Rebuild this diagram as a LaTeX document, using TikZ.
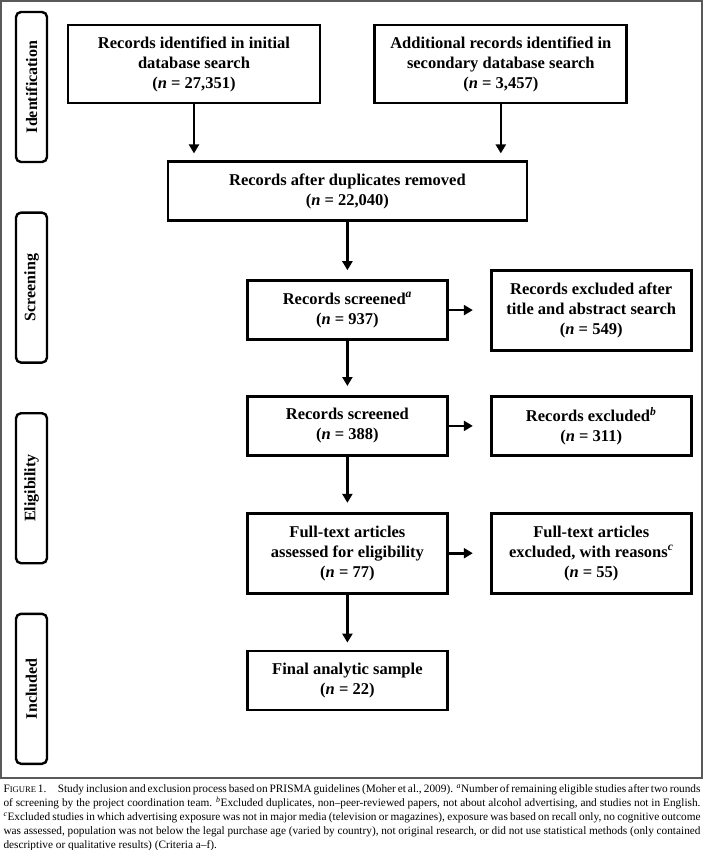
\documentclass[tikz,border=0pt]{standalone}
\usepackage{fontspec}
\setmainfont{Liberation Serif}
\usetikzlibrary{arrows.meta,positioning,calc}

\begin{document}
\begin{tikzpicture}[
  x=1pt,y=1pt,
  box/.style={draw,line width=2.8pt,align=center,inner sep=2pt,font=\fontsize{16.5}{20}\selectfont\bfseries},
  widebox/.style={box,minimum width=252pt,minimum height=78pt},
  midbox/.style={box,minimum width=200pt,minimum height=59pt},
  tallbox/.style={box,minimum width=200pt,minimum height=80pt},
  phase/.style={draw,line width=2.4pt,rounded corners=5pt,rotate=90,minimum width=150pt,minimum height=31pt,inner sep=0pt,font=\fontsize{16}{19}\selectfont\bfseries},
  arrow/.style={-{Triangle[length=9pt,width=10pt]},line width=2.6pt}
]
\useasboundingbox (0,0) rectangle (704,-850);
\draw[gray!70!black,line width=1.2pt] (1,-1) rectangle (702,-778);

% phase labels on the left
\foreach \phasename [count=\i from 0] in {Identification,Screening,Eligibility,Included}
  \node[phase] (phase\i) at (31.5,{-87-200.6*\i}) {\phasename};

% flow boxes
\node[widebox] (initial) at (194,-64) {Records identified in initial\\database search\\(\textit{n} = 27,351)};
\node[widebox,right=52pt of initial] (secondary) {Additional records identified in\\secondary database search\\(\textit{n} = 3,457)};
\node[box,minimum width=359pt,minimum height=59pt,below=56pt of {$(initial.south)!0.5!(secondary.south)$}] (dedup) {Records after duplicates removed\\(\textit{n} = 22,040)};
\node[midbox,below=57pt of dedup] (screened) {Records screened\textsuperscript{\textit{a}}\\(\textit{n} = 937)};
\node[tallbox,right=41pt of screened] (abstract) {Records excluded after\\title and abstract search\\(\textit{n} = 549)};
\node[midbox,below=54pt of screened] (rescreened) {Records screened\\(\textit{n} = 388)};
\node[midbox,right=41pt of rescreened] (excluded) {Records excluded\textsuperscript{\textit{b}}\\(\textit{n} = 311)};
\node[tallbox,below=55pt of rescreened] (fulltext) {Full-text articles\\assessed for eligibility\\(\textit{n} = 77)};
\node[tallbox,right=41pt of fulltext] (reasons) {Full-text articles\\excluded, with reasons\textsuperscript{\textit{c}}\\(\textit{n} = 55)};
\node[midbox,below=55pt of fulltext] (final) {Final analytic sample\\(\textit{n} = 22)};

\draw[arrow,shorten >=7pt] (initial) -- (initial |- dedup.north);
\draw[arrow,shorten >=7pt] (secondary) -- (secondary |- dedup.north);
\draw[arrow,shorten >=9pt] (dedup) -- (screened);
\draw[arrow,shorten >=17pt] (screened) -- (abstract);
\draw[arrow,shorten >=9pt] (screened) -- (rescreened);
\draw[arrow,shorten >=17pt] (rescreened) -- (excluded);
\draw[arrow,shorten >=9pt] (rescreened) -- (fulltext);
\draw[arrow,shorten >=17pt] (fulltext) -- (reasons);
\draw[arrow,shorten >=7pt] (fulltext) -- (final);

% caption
\node[anchor=north,text width=697pt,align=justify,inner sep=0pt,font=\fontsize{11.3}{14}\selectfont] (caption) at (352,-784)
  {F{\fontsize{8.6}{10}\selectfont IGURE} 1.\quad Study inclusion and exclusion process based on PRISMA guidelines (Moher et al., 2009). \textsuperscript{\textit{a}}Number of remaining eligible studies after two rounds\linebreak
  of screening by the project coordination team. \textsuperscript{\textit{b}}Excluded duplicates, non--peer-reviewed papers, not about alcohol advertising, and studies not in English.\linebreak
  \textsuperscript{\textit{c}}Excluded studies in which advertising exposure was not in major media (television or magazines), exposure was based on recall only, no cognitive outcome\linebreak
  was assessed, population was not below the legal purchase age (varied by country), not original research, or did not use statistical methods (only contained\linebreak
  descriptive or qualitative results) (Criteria a--f).};
\end{tikzpicture}
\end{document}
